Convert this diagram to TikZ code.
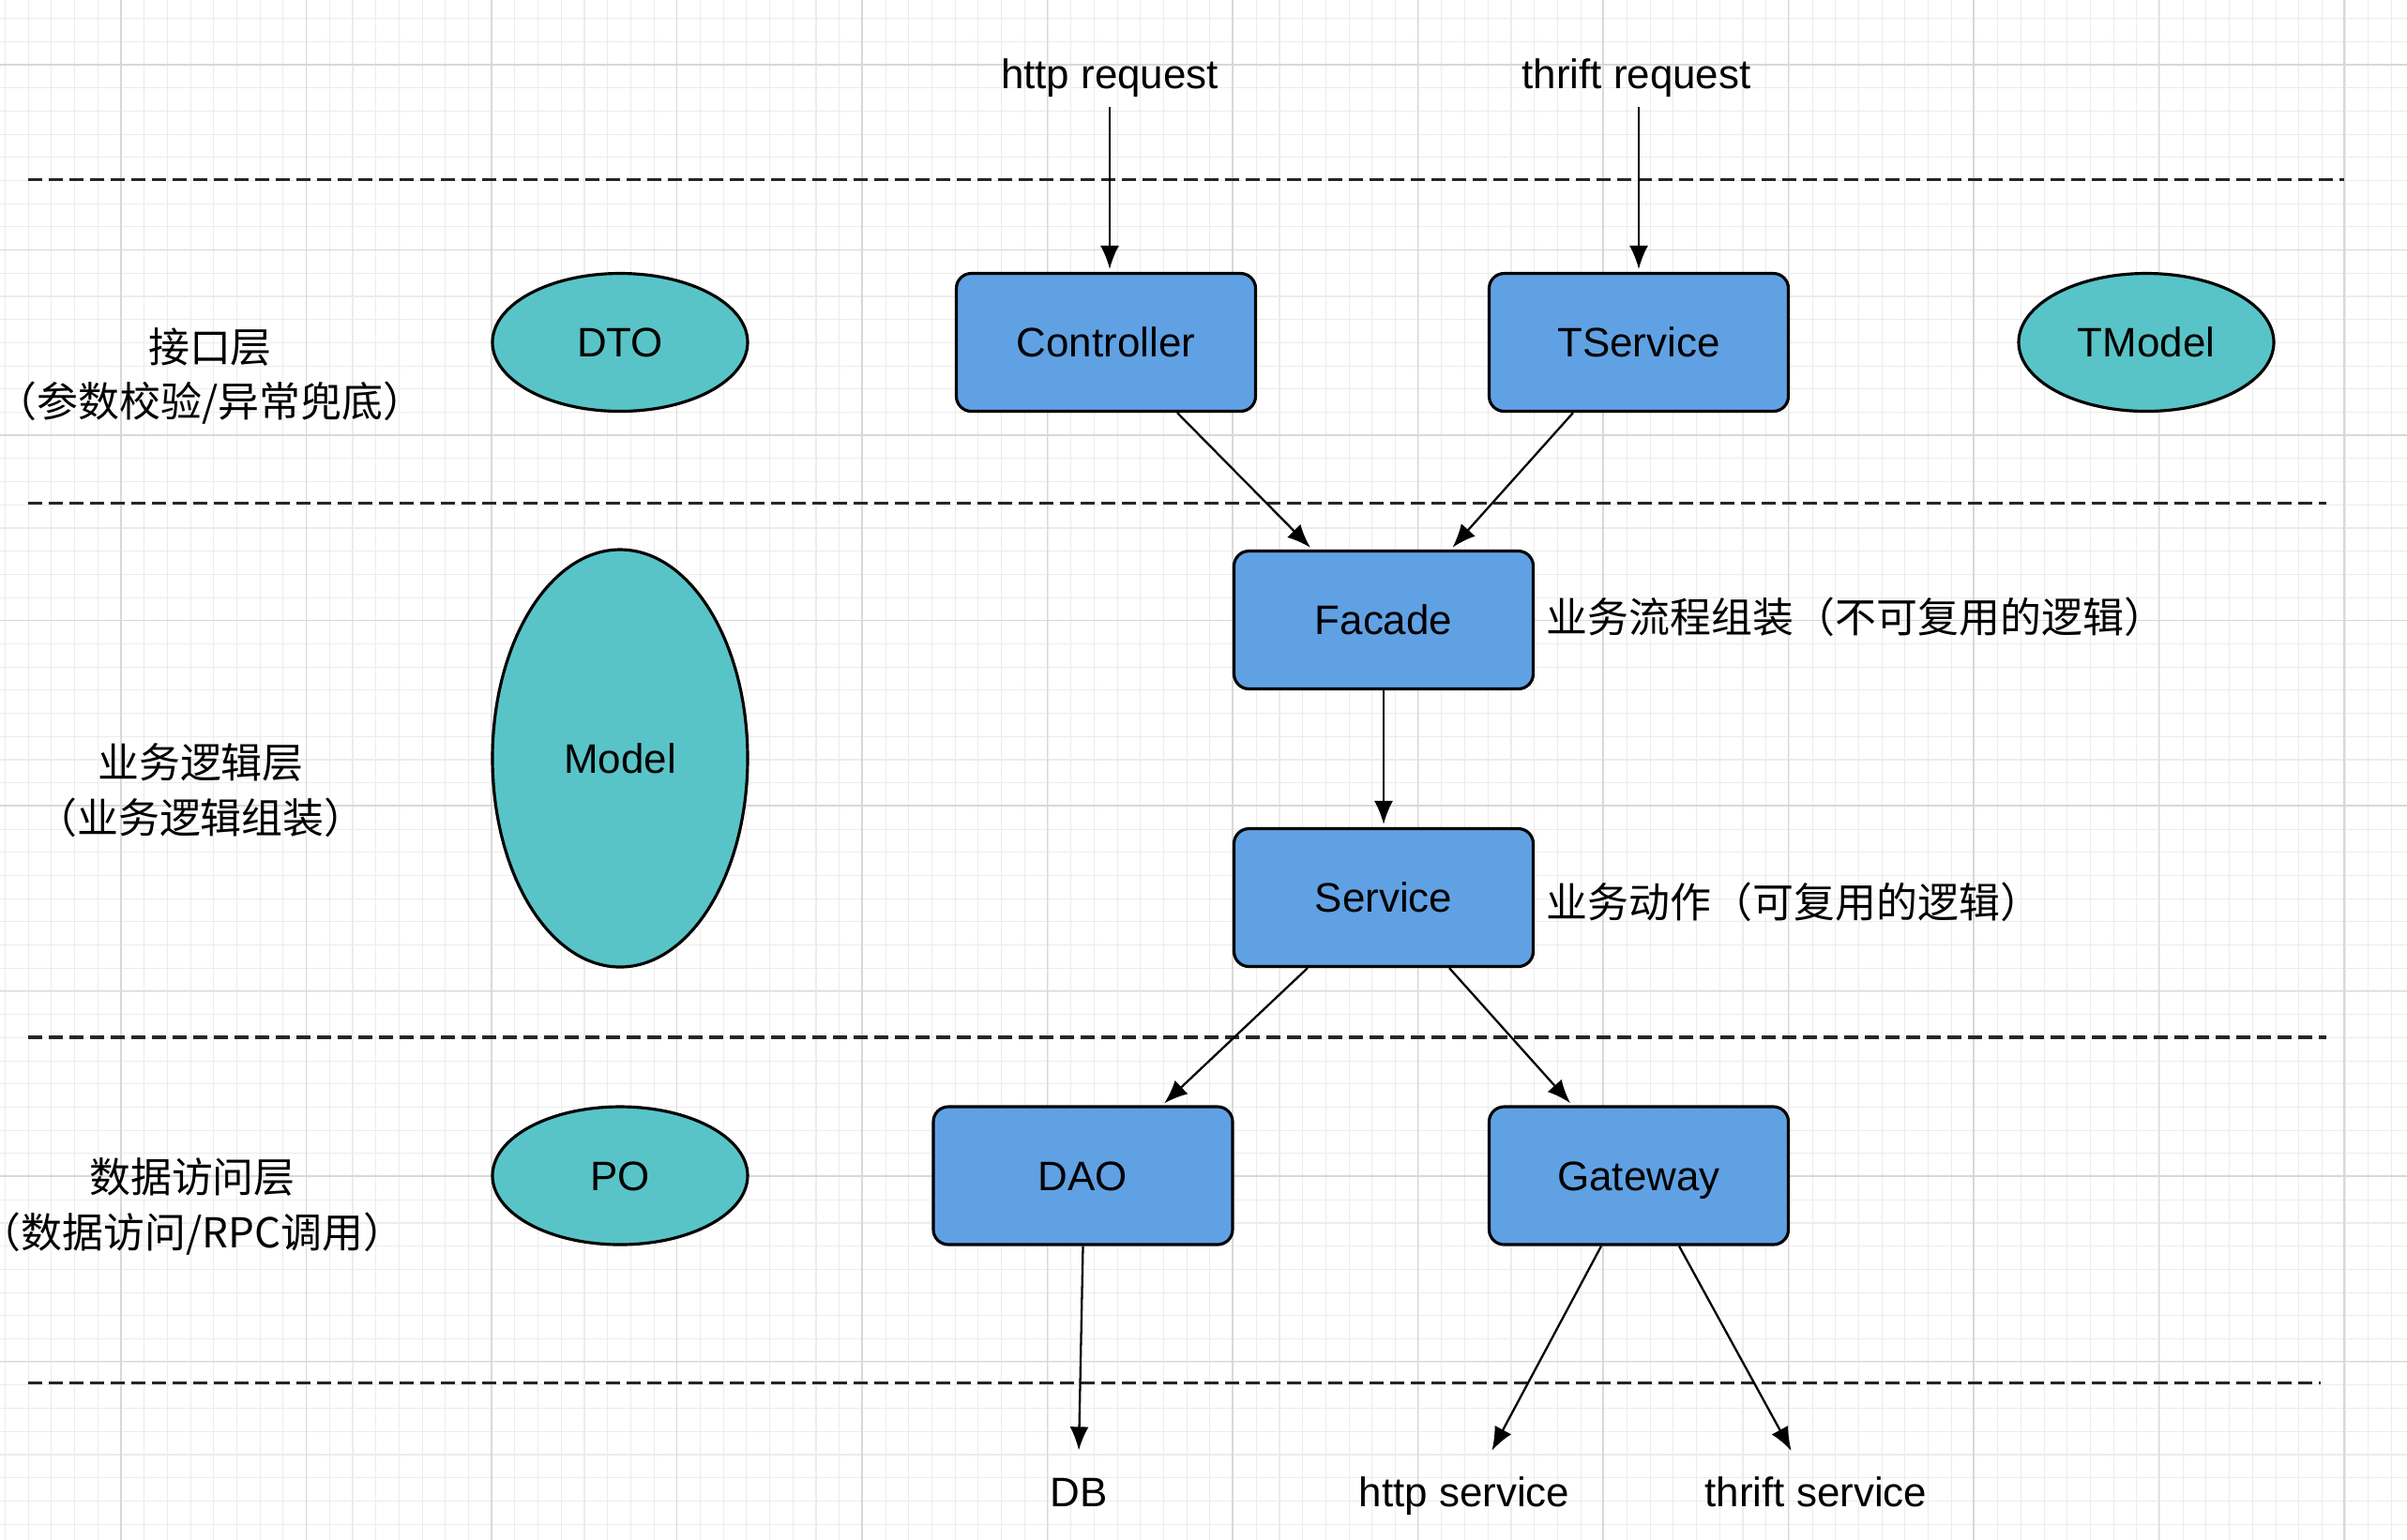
\documentclass[tikz,border=0pt]{standalone}
\usepackage{fontspec}
\setmainfont{Liberation Sans}
\newfontfamily\cjk{Noto Sans CJK SC}
\usetikzlibrary{positioning, arrows.meta, shapes.geometric}
\definecolor{boxblue}{RGB}{96,161,228}
\definecolor{modelteal}{RGB}{88,196,199}
\definecolor{gridminor}{RGB}{236,236,236}
\definecolor{gridmajor}{RGB}{216,216,216}
\newcommand\labelsize{\fontsize{12.5}{16.6}\selectfont}

\begin{document}
\begin{tikzpicture}[->,>={Latex[length=2.5mm,width=2mm]},shorten >=.3mm,line width=0.65pt,
  font=\labelsize, text height=9pt, text depth=0pt,
  comp/.style={draw, rounded corners=1.6mm, fill=boxblue, line width=0.9pt,
    minimum width=3.19cm, minimum height=1.47cm},
  entity/.style={draw, ellipse, fill=modelteal, line width=0.9pt,
    minimum width=2.72cm, minimum height=1.47cm},
  layer/.style={align=center, font=\cjk\labelsize, text height=, text depth=},
  sep/.style={-, shorten >=0pt, line width=0.95pt, black!85, dash pattern=on 1.5mm off 0.7mm},
]
  % background and grid
  \fill[white] (0,0) rectangle (25.66,-16.41);
  \useasboundingbox (0,0) rectangle (25.66,-16.41);
  \begin{scope}[-, shorten >=0pt]
    \clip (0,0) rectangle (25.66,-16.41);
    \draw[gridminor, line width=0.3pt, step=0.247, shift={(0.055,-0.196)}] (-1,1) grid (27,-18);
    \draw[gridmajor, line width=0.4pt, step=1.975, shift={(1.29,-0.69)}] (-2,2) grid (28,-18);
  \end{scope}

  % layer separators
  \draw[sep] (0.30,-1.915) -- (24.99,-1.915);
  \draw[sep] (0.30,-5.368) -- (24.80,-5.368);
  \draw[sep] (0.30,-11.06) -- (24.80,-11.06);
  \draw[sep] (0.30,-14.745) -- (24.74,-14.745);

  % layer labels
  \node[layer] (api)  at (2.24,-4.007) {接口层\\（参数校验/异常兜底）};
  \node[layer] (biz)  at (2.14,-8.425)  {业务逻辑层\\（业务逻辑组装）};
  \node[layer] (data) at (2.05,-12.865)  {数据访问层\\（数据访问/RPC调用）};

  % models
  \node[entity] (dto)    at (6.61,-3.65)   {DTO};
  \node[entity] (tmodel) at (22.88,-3.65)  {TModel};
  \node[entity, minimum height=4.45cm] (model) at (6.61,-8.085) {Model};
  \node[entity] (po)     at (6.61,-12.535) {PO};

  % components
  \node[comp] (ctrl)   at (11.79,-3.65)   {Controller};
  \node[comp] (tsvc)   at (17.47,-3.65)   {TService};
  \node[comp] (facade) at (14.75,-6.61)   {Facade};
  \node[comp] (svc)    at (14.75,-9.57)   {Service};
  \node[comp] (dao)    at (11.545,-12.535) {DAO};
  \node[comp] (gw)     at (17.47,-12.535)  {Gateway};

  \node[layer, right=0pt of facade, yshift=0.03cm] (facadenote) {业务流程组装（不可复用的逻辑）};
  \node[layer, right=0pt of svc, yshift=-0.05cm] (svcnote) {业务动作（可复用的逻辑）};

  % entry and exit points
  \node (httpreq)   at (11.83,-0.785)  {http request};
  \node (thriftreq) at (17.445,-0.785) {thrift request};
  \node (db)        at (11.5,-15.91)   {DB};
  \node (httpsvc)   at (15.61,-15.91)  {http service};
  \node (thriftsvc) at (19.36,-15.91)  {thrift service};

  % calls
  \draw ([yshift=-0.07cm]httpreq.south) -- (httpreq.south |- ctrl.north);
  \draw ([yshift=-0.07cm]thriftreq.south -| tsvc.north) -- (tsvc.north);
  \draw ([xshift=0.76cm]ctrl.south) -- ([xshift=-0.76cm]facade.north);
  \draw ([xshift=-0.7cm]tsvc.south) -- ([xshift=0.715cm]facade.north);
  \draw (facade) -- (svc);
  \draw ([xshift=-0.81cm]svc.south) -- ([xshift=0.845cm]dao.north);
  \draw ([xshift=0.7cm]svc.south) -- ([xshift=-0.71cm]gw.north);
  \draw (dao.south) -- ([yshift=0.13cm]db.north);
  \draw ([xshift=-0.4cm]gw.south) -- ([xshift=0.28cm,yshift=0.13cm]httpsvc.north);
  \draw ([xshift=0.43cm]gw.south) -- ([xshift=-0.25cm,yshift=0.13cm]thriftsvc.north);
\end{tikzpicture}
\end{document}
